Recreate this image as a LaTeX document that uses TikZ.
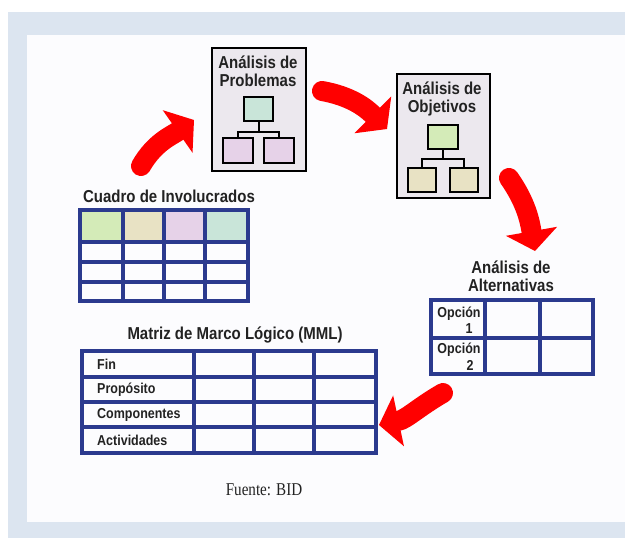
\documentclass[tikz,border=0pt]{standalone}
\usepackage{fontspec}
\setmainfont{Liberation Sans}
\newfontfamily\serifsrc{Liberation Serif}
\usetikzlibrary{arrows.meta}
\definecolor{bgblue}{HTML}{DCE5F0}
\definecolor{inwhite}{HTML}{FCFCFE}
\definecolor{navy}{HTML}{2B3A8E}
\definecolor{boxfill}{HTML}{ECE8EE}
\definecolor{tealf}{HTML}{C9E5D9}
\definecolor{lavf}{HTML}{E6D2E8}
\definecolor{greenf}{HTML}{D4EBB8}
\definecolor{beigef}{HTML}{E8E2C4}
\definecolor{redarrow}{HTML}{FF0000}
\definecolor{txt}{HTML}{222222}
\newcommand\tallt[1]{\scalebox{1}[1.15]{#1}}
\begin{document}
\begin{tikzpicture}[x=1pt,y=-1pt,
 panel/.style={draw=black, line width=2.2pt, fill=boxfill, anchor=north west, inner sep=0pt},
 leaf/.style={draw=black, line width=2.2pt, anchor=north west, inner sep=0pt},
 link/.style={draw=black, line width=2.2pt},
 title/.style={font=\bfseries\fontsize{15}{18}\selectfont, text=txt, align=center, inner sep=0pt},
 cell/.style={font=\bfseries\fontsize{12.5}{14}\selectfont, text=txt, inner sep=0pt},
 gridline/.style={draw=navy, line width=3.2pt},
 flow/.style={draw=redarrow, line width=20pt, line cap=round, -{Triangle[width=52pt,length=20pt,line width=0pt]}},
]
\useasboundingbox (0,0) rectangle (625,538);
% frame
\fill[bgblue] (8,12) rectangle (625,538);
\fill[inwhite] (27,35) rectangle (625,522);

% Problemas panel
\node[panel, minimum width=94pt, minimum height=123pt] (prob) at (211,47) {};
\node[title] (probt) at (258,71) {\tallt{Análisis de}\\\tallt{Problemas}};
\node[leaf, fill=tealf, minimum width=29pt, minimum height=24pt] (ptop) at (243,96) {};
\node[leaf, fill=lavf, minimum width=30pt, minimum height=25pt] (pl) at (222,137) {};
\node[leaf, fill=lavf, minimum width=30pt, minimum height=25pt] (pr) at (263,137) {};
\draw[link] (ptop.south) -- ++(0,9.5) -| (pl.north);
\draw[link] (ptop.south) -- ++(0,9.5) -| (pr.north);

% Objetivos panel
\node[panel, minimum width=93pt, minimum height=124pt] (obj) at (396,73) {};
\node[title] (objt) at (442,99) {\tallt{Análisis de}\\\tallt{Objetivos}};
\node[leaf, fill=greenf, minimum width=30pt, minimum height=24pt] (otop) at (427,124) {};
\node[leaf, fill=beigef, minimum width=28pt, minimum height=24pt] (ol) at (407,167) {};
\node[leaf, fill=beigef, minimum width=28pt, minimum height=24pt] (or) at (449,167) {};
\draw[link] (otop.south) -- ++(0,9) -| (ol.north);
\draw[link] (otop.south) -- ++(0,9) -| (or.north);

% Cuadro de Involucrados
\node[title] (invt) at (169,196) {\tallt{Cuadro de Involucrados}};
\fill[greenf] (80,210) rectangle (123,242);
\fill[beigef] (123,210) rectangle (164,242);
\fill[lavf] (164,210) rectangle (205,242);
\fill[tealf] (205,210) rectangle (248,242);
\draw[gridline] (80,210) rectangle (248,301);
\foreach \yy in {242,262,282} \draw[gridline] (80,\yy) -- (248,\yy);
\foreach \xx in {123,164,205} \draw[gridline] (\xx,210) -- (\xx,301);

% Alternativas
\node[title] (altt) at (511,276) {\tallt{Análisis de}\\\tallt{Alternativas}};
\draw[gridline] (431,300) rectangle (593,374);
\draw[gridline] (431,338) -- (593,338);
\foreach \xx in {485,540} \draw[gridline] (\xx,300) -- (\xx,374);
\node[cell] (op1) at (459,314) {\tallt{Opción}};
\node[cell] (op1n) at (469,329) {\tallt{1}};
\node[cell] (op2) at (459,350) {\tallt{Opción}};
\node[cell] (op2n) at (470,365) {\tallt{2}};

% MML
\node[title] (mmlt) at (235,335) {\tallt{Matriz de Marco Lógico (MML)}};
\draw[gridline] (82,351) rectangle (376,453);
\foreach \yy in {377,402,427} \draw[gridline] (82,\yy) -- (376,\yy);
\foreach \xx in {194,254,314} \draw[gridline] (\xx,351) -- (\xx,453);
\node[cell, anchor=west] (fin) at (97,364) {\tallt{Fin}};
\node[cell, anchor=west] (prop) at (97,389.5) {\tallt{Propósito}};
\node[cell, anchor=west] (comp) at (97,414.5) {\tallt{Componentes}};
\node[cell, anchor=west] (act) at (97,440) {\tallt{Actividades}};

% source
\node[font=\serifsrc\fontsize{18}{18}\selectfont, text=txt, inner sep=0pt] (src) at (264,490) {\scalebox{0.84}[1]{Fuente: BID}};

% arrows
\coordinate (a1s) at (141,166);
\coordinate (a1e) at (194,120);
\coordinate (a2s) at (322,91);
\coordinate (a2e) at (387,129);
\coordinate (a3s) at (509,178);
\coordinate (a3e) at (535,251);
\coordinate (a4s) at (443,393);
\coordinate (a4e) at (379,425);
\draw[flow] (a1s) to[out=60,in=215] (a1e);
\draw[flow] (a2s) to[out=-10,in=135] (a2e);
\draw[flow] (a3s) to[out=-55,in=100] (a3e);
\draw[flow] (a4s) to[out=210,in=12] (a4e);
\end{tikzpicture}
\end{document}
